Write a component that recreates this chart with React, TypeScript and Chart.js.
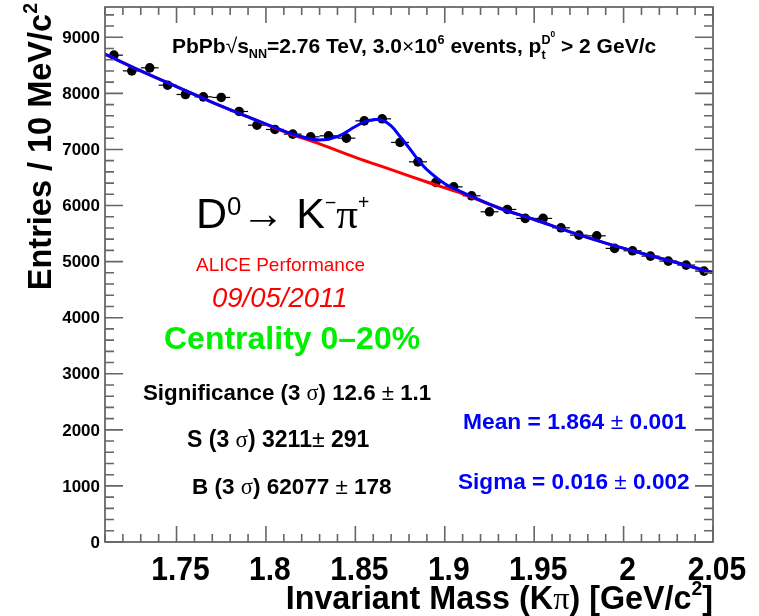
import React, { useEffect, useRef } from "react";
import { Chart, registerables } from "chart.js";
Chart.register(...registerables);

// ---- data ----
const binCenters = [1.715, 1.725, 1.735, 1.745, 1.755, 1.765, 1.775, 1.785, 1.795, 1.805, 1.815, 1.825, 1.835, 1.845, 1.855, 1.865, 1.875, 1.885, 1.895, 1.905, 1.915, 1.925, 1.935, 1.945, 1.955, 1.965, 1.975, 1.985, 1.995, 2.005, 2.015, 2.025, 2.035, 2.045];
const entries = [8681, 8401, 8455, 8146, 7980, 7938, 7927, 7677, 7433, 7356, 7273, 7225, 7243, 7201, 7510, 7546, 7125, 6779, 6412, 6333, 6173, 5888, 5930, 5770, 5770, 5603, 5472, 5460, 5235, 5193, 5098, 5009, 4938, 4831];
const binHalfWidth = 0.005;

const bgMass = [1.71, 1.73, 1.75, 1.77, 1.79, 1.81, 1.83, 1.85, 1.87, 1.89, 1.91, 1.93, 1.95, 1.97, 1.99, 2.01, 2.03, 2.05];
const bgFit = [8700, 8400, 8120, 7840, 7580, 7320, 7100, 6860, 6640, 6420, 6210, 5960, 5750, 5530, 5330, 5150, 4980, 4800];

const totalMass = [1.71, 1.73, 1.75, 1.77, 1.79, 1.81, 1.82, 1.83, 1.84, 1.85, 1.855, 1.86, 1.865, 1.87, 1.875, 1.88, 1.885, 1.89, 1.9, 1.91, 1.93, 1.95, 1.97, 1.99, 2.01, 2.03, 2.05];
const totalFit = [8700, 8400, 8120, 7840, 7580, 7330, 7225, 7170, 7230, 7410, 7490, 7530, 7520, 7420, 7230, 7030, 6820, 6640, 6390, 6235, 5960, 5750, 5530, 5330, 5150, 4980, 4800];

const xMin = 1.71, xMax = 2.05, yMin = 0, yMax = 9540;
const xTicks = [1.75, 1.8, 1.85, 1.9, 1.95, 2, 2.05];
const xTickLabels = ["1.75", "1.8", "1.85", "1.9", "1.95", "2", "2.05"];
const yTicks = [0, 1000, 2000, 3000, 4000, 5000, 6000, 7000, 8000, 9000];
const yTickLabels = ["0", "1000", "2000", "3000", "4000", "5000", "6000", "7000", "8000", "9000"];
const xMinorStep = 0.01;
const yMinorStep = 200;

// ---- rich text helpers ----
type Seg = { t: string; s?: number; dy?: number; w?: string; it?: boolean; adv?: boolean; serif?: boolean };
const FAM = '"Liberation Sans", Arial, Helvetica, sans-serif';
const SERIF = '"Liberation Serif", "Times New Roman", serif';
function fnt(size: number, weight: string, italic: boolean, serif = false) {
  return `${italic ? "italic " : ""}${weight} ${size}px ${serif ? SERIF : FAM}`;
}
function richWidth(ctx: CanvasRenderingContext2D, segs: Seg[], size: number, weight: string, italic: boolean) {
  let w = 0;
  for (const sg of segs) {
    ctx.font = fnt(size * (sg.s ?? 1), sg.w ?? weight, sg.it ?? italic, sg.serif);
    if (sg.adv !== false) w += ctx.measureText(sg.t).width;
  }
  return w;
}
function drawRich(ctx: CanvasRenderingContext2D, segs: Seg[], x: number, y: number, size: number, weight: string, italic: boolean, color: string, align: "left" | "right" = "left") {
  ctx.save();
  ctx.fillStyle = color;
  ctx.textAlign = "left";
  ctx.textBaseline = "alphabetic";
  let cx = x;
  if (align === "right") cx = x - richWidth(ctx, segs, size, weight, italic);
  for (const sg of segs) {
    ctx.font = fnt(size * (sg.s ?? 1), sg.w ?? weight, sg.it ?? italic, sg.serif);
    ctx.fillText(sg.t, cx, y - (sg.dy ?? 0) * size);
    if (sg.adv !== false) cx += ctx.measureText(sg.t).width;
  }
  ctx.restore();
}

const rootPlugin = {
  id: "rootStyle",
  beforeDatasetsDraw(chart: any) {
    const ctx: CanvasRenderingContext2D = chart.ctx;
    const xs = chart.scales.x, ys = chart.scales.y;
    ctx.save();
    ctx.strokeStyle = "#000";
    ctx.lineWidth = 1.2;
    binCenters.forEach((c, i) => {
      const py = ys.getPixelForValue(entries[i]);
      ctx.beginPath();
      ctx.moveTo(xs.getPixelForValue(c - binHalfWidth), py);
      ctx.lineTo(xs.getPixelForValue(c + binHalfWidth), py);
      ctx.stroke();
    });
    ctx.restore();
  },
  afterDraw(chart: any) {
    const ctx: CanvasRenderingContext2D = chart.ctx;
    const xs = chart.scales.x, ys = chart.scales.y;
    const a = chart.chartArea;
    ctx.save();
    // frame
    ctx.strokeStyle = "#555";
    ctx.lineWidth = 1.6;
    ctx.strokeRect(a.left, a.top, a.right - a.left, a.bottom - a.top);
    // ticks
    ctx.strokeStyle = "#666";
    ctx.beginPath();
    for (let v = xMin; v <= xMax + 1e-9; v += xMinorStep) {
      const r = Math.round(v * 100) / 100;
      const major = Math.abs(r * 20 - Math.round(r * 20)) < 1e-6;
      const px = xs.getPixelForValue(r);
      const L = major ? 16 : 8;
      ctx.moveTo(px, a.bottom); ctx.lineTo(px, a.bottom - L);
      ctx.moveTo(px, a.top); ctx.lineTo(px, a.top + L);
    }
    for (let v = yMin; v <= yMax; v += yMinorStep) {
      const major = v % 1000 === 0;
      const py = ys.getPixelForValue(v);
      const L = major ? 18 : 9;
      ctx.moveTo(a.left, py); ctx.lineTo(a.left + L, py);
      ctx.moveTo(a.right, py); ctx.lineTo(a.right - L, py);
    }
    ctx.stroke();
    ctx.restore();

    // tick labels
    ctx.save();
    ctx.fillStyle = "#000";
    ctx.font = fnt(17, "bold", false);
    ctx.textAlign = "right";
    ctx.textBaseline = "middle";
    yTicks.forEach((v, i) => ctx.fillText(yTickLabels[i], a.left - 5, ys.getPixelForValue(v) + 1));
    ctx.restore();
    ctx.save();
    ctx.fillStyle = "#000";
    ctx.font = fnt(30, "bold", false);
    ctx.textAlign = "center";
    ctx.textBaseline = "alphabetic";
    ctx.translate(0, 580);
    ctx.scale(1, 1.13);
    xTicks.forEach((v, i) => ctx.fillText(xTickLabels[i], xs.getPixelForValue(v) + 4, 0));
    ctx.restore();

    // axis titles
    drawRich(ctx, [{ t: "Invariant Mass (K" }, { t: "π", w: "normal", serif: true }, { t: ") [GeV/c" }, { t: "2", s: 0.6, dy: 0.42 }, { t: "]" }], a.right, 609, 32.3, "bold", false, "#000", "right");
    ctx.save();
    ctx.translate(51, 3);
    ctx.rotate(-Math.PI / 2);
    drawRich(ctx, [{ t: "Entries / 10 MeV/c" }, { t: "2", s: 0.6, dy: 0.42 }], 0, 0, 32.5, "bold", false, "#000", "right");
    ctx.restore();

    // header
    drawRich(ctx, [
      { t: "PbPb" }, { t: "√", w: "normal" }, { t: "s" }, { t: "NN", s: 0.6, dy: -0.25 },
      { t: "=2.76 TeV, 3.0" }, { t: "×", w: "normal" }, { t: "10" }, { t: "6", s: 0.6, dy: 0.42 },
      { t: " events, p" }, { t: "t", s: 0.6, dy: -0.3, adv: false }, { t: "D", s: 0.6, dy: 0.45 }, { t: "0", s: 0.4, dy: 0.75 },
      { t: " > 2 GeV/c" },
    ], 172, 53, 21, "bold", false, "#000");

    // decay
    drawRich(ctx, [
      { t: "D" }, { t: "0", s: 0.6, dy: 0.3 }, { t: "→ " }, { t: "K" }, { t: "−", s: 0.45, dy: 0.45 }, { t: "π", serif: true }, { t: "+", s: 0.45, dy: 0.45 },
    ], 196, 228, 43, "normal", false, "#000");

    drawRich(ctx, [{ t: "ALICE Performance" }], 196, 271, 19, "normal", false, "#ff0000");
    drawRich(ctx, [{ t: "09/05/2011" }], 212, 307, 27.5, "normal", true, "#ff0000");
    drawRich(ctx, [{ t: "Centrality 0–20%" }], 164, 349, 32, "bold", false, "#00ee00");

    drawRich(ctx, [{ t: "Significance (3 " }, { t: "σ", w: "normal", serif: true }, { t: ") 12.6" }, { t: " ± ", w: "normal" }, { t: "1.1" }], 143, 400, 22.3, "bold", false, "#000");
    drawRich(ctx, [{ t: "S (3 " }, { t: "σ", w: "normal", serif: true }, { t: ") 3211" }, { t: "± ", w: "normal" }, { t: "291" }], 187, 447, 23, "bold", false, "#000");
    drawRich(ctx, [{ t: "B (3 " }, { t: "σ", w: "normal", serif: true }, { t: ") 62077" }, { t: " ± ", w: "normal" }, { t: "178" }], 192, 494, 22.5, "bold", false, "#000");

    drawRich(ctx, [{ t: "Mean = 1.864" }, { t: " ± ", w: "normal" }, { t: "0.001" }], 463, 429, 22.8, "bold", false, "#0000ff");
    drawRich(ctx, [{ t: "Sigma = 0.016" }, { t: " ± ", w: "normal" }, { t: "0.002" }], 458, 489, 22.6, "bold", false, "#0000ff");
  },
};

export default function App() {
  const ref = useRef<HTMLCanvasElement>(null);
  useEffect(() => {
    const canvas = ref.current!;
    const chart = new Chart(canvas, {
      type: "scatter",
      data: {
        datasets: [
          { label: "fit", data: totalMass.map((x, i) => ({ x, y: totalFit[i] })), showLine: true, borderColor: "#0000ff", borderWidth: 3, pointRadius: 0, tension: 0.4, order: 0 } as any,
          { label: "bg", data: bgMass.map((x, i) => ({ x, y: bgFit[i] })), showLine: true, borderColor: "#ff0000", borderWidth: 3, pointRadius: 0, tension: 0.4, order: 1 } as any,
          { label: "data", data: binCenters.map((x, i) => ({ x, y: entries[i] })), backgroundColor: "#000", borderColor: "#000", pointRadius: 4.8, borderWidth: 0, order: 2 } as any,
        ],
      },
      options: {
        animation: false,
        responsive: false,
        devicePixelRatio: 1,
        events: [],
        layout: { padding: { left: 105, top: 7, right: 46, bottom: 74 } },
        plugins: { legend: { display: false }, tooltip: { enabled: false } },
        scales: {
          x: { type: "linear", min: xMin, max: xMax, display: false },
          y: { type: "linear", min: yMin, max: yMax, display: false },
        },
      },
      plugins: [rootPlugin],
    });
    return () => chart.destroy();
  }, []);
  return (
    <div style={{ position: "absolute", left: 0, top: 0, width: 759, height: 616, background: "#fff" }}>
      <canvas ref={ref} width={759} height={616} style={{ display: "block" }} />
    </div>
  );
}
